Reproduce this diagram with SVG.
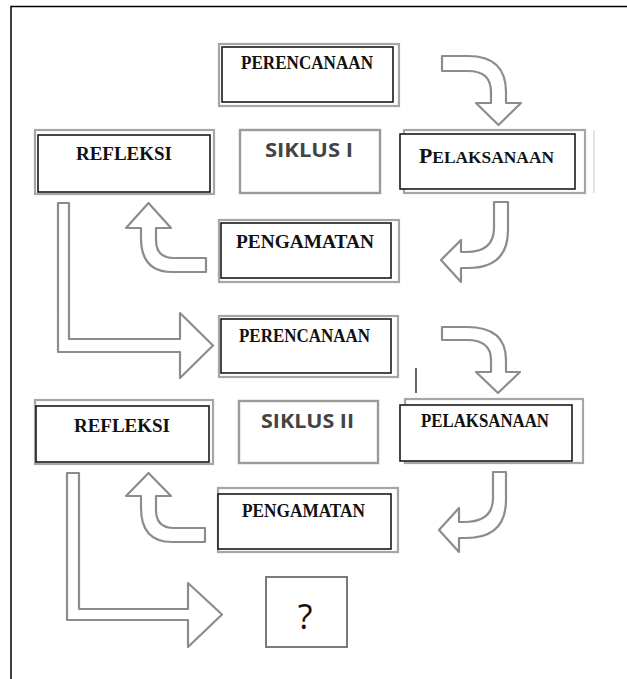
<svg xmlns="http://www.w3.org/2000/svg" width="627" height="679" viewBox="0 0 627 679">
<style>
.bg{fill:#fff}
.frame{stroke:#000;stroke-width:1.5;fill:none}
.shadow{fill:#fff;stroke:#a6a6a6;stroke-width:2.2}
.box{fill:#fff;stroke:#1a1a1a;stroke-width:1.6}
.sik{fill:#fff;stroke:#9a9a9a;stroke-width:2.4}
.lbl{font-family:"Liberation Serif","Times New Roman",serif;font-weight:bold;font-size:19px;fill:#111;text-anchor:middle}
.sl{font-family:"Open Sans","Liberation Sans",sans-serif;font-weight:bold;font-size:19px;fill:#444;text-anchor:middle}
.arr{fill:#fff;stroke:#8c8c8c;stroke-width:2.2;stroke-linejoin:round}
</style>
<rect class="bg" x="0" y="0" width="627" height="679"/>
<path class="frame" d="M11,679 L11,6.5 L627,6.5"/>

<g id="connectors">
  <path class="arr" d="M442,56 L468,56 Q506,56 506,92 L506,103 L521,103 L498.5,125 L476,103 L491,103 L491,92 Q491,71 468,71 L442,71 Z"/>
  <path class="arr" d="M494,202 L508,202 L508,230 Q508,268 468,268 L461,268 L461,282 L441,260 L461,240 L461,252 L466,252 Q494,252 494,228 Z"/>
  <path class="arr" d="M206,258 L206,272 L172,272 Q141,272 141,238 L141,228 L126,228 L148.5,203 L171,228 L156,228 L156,240 Q156,258 174,258 Z"/>
  <path class="arr" d="M58,203 L69,203 L69,339 L180,339 L180,313 L213,345.5 L180,378 L180,352 L58,352 Z"/>
  <path class="arr" d="M442,327 L467,327 Q506,327 506,360 L506,372 L520,372 L498,393 L476,372 L491,372 L491,360 Q491,340 467,340 L442,340 Z"/>
  <path class="arr" d="M493,472 L506,472 L506,500 Q506,538 466,538 L459,538 L459,552 L439,530 L459,508 L459,522 L464,522 Q493,522 493,498 Z"/>
  <path class="arr" d="M205,528 L205,542 L172,542 Q141,542 141,508 L141,496 L126,496 L148.5,473 L171,496 L156,496 L156,510 Q156,528 174,528 Z"/>
  <path class="arr" d="M67,473 L79,473 L79,609 L188,609 L188,583 L222,614.5 L188,647 L188,620 L67,620 Z"/>
  <line x1="416" y1="368" x2="416" y2="393" stroke="#111" stroke-width="1.3"/>
  <line x1="594" y1="130" x2="594" y2="193" stroke="#d0d0d0" stroke-width="1.2"/>
</g>

<g id="perencanaan1">
  <rect class="shadow" x="219" y="44" width="180" height="62"/>
  <rect class="box" x="222" y="47" width="171" height="55"/>
  <text class="lbl" x="307" y="69" textLength="132" lengthAdjust="spacingAndGlyphs">PERENCANAAN</text>
</g>
<g id="refleksi1">
  <rect class="shadow" x="35" y="130" width="179" height="64"/>
  <rect class="box" x="38" y="135" width="172" height="57"/>
  <text class="lbl" x="124" y="160" textLength="96" lengthAdjust="spacingAndGlyphs">REFLEKSI</text>
</g>
<g id="siklus1">
  <rect class="sik" x="240" y="130" width="140" height="63"/>
  <text class="sl" x="309" y="157" textLength="88" lengthAdjust="spacingAndGlyphs">SIKLUS I</text>
</g>
<g id="pelaksanaan1">
  <rect class="shadow" x="404" y="130" width="181" height="63"/>
  <rect class="box" x="400" y="134" width="175" height="55"/>
  <text x="419" y="163" font-family="'Liberation Serif','Times New Roman',serif" font-weight="bold" fill="#111" textLength="135" lengthAdjust="spacingAndGlyphs"><tspan font-size="22">P</tspan><tspan font-size="17.5">ELAKSANAAN</tspan></text>
</g>
<g id="pengamatan1">
  <rect class="shadow" x="219" y="220" width="180" height="62"/>
  <rect class="box" x="221" y="223" width="170" height="55"/>
  <text class="lbl" x="305" y="248" textLength="138" lengthAdjust="spacingAndGlyphs">PENGAMATAN</text>
</g>
<g id="perencanaan2">
  <rect class="shadow" x="219" y="316" width="179" height="61"/>
  <rect class="box" x="221" y="319" width="170" height="54"/>
  <text class="lbl" x="304.5" y="342" textLength="131" lengthAdjust="spacingAndGlyphs">PERENCANAAN</text>
</g>
<g id="refleksi2">
  <rect class="shadow" x="35" y="400" width="178" height="64"/>
  <rect class="box" x="36" y="406" width="173" height="56"/>
  <text class="lbl" x="122" y="432" textLength="96" lengthAdjust="spacingAndGlyphs">REFLEKSI</text>
</g>
<g id="siklus2">
  <rect class="sik" x="239" y="401" width="139" height="62"/>
  <text class="sl" x="307.5" y="428" textLength="93" lengthAdjust="spacingAndGlyphs">SIKLUS II</text>
</g>
<g id="pelaksanaan2">
  <rect class="shadow" x="405" y="399" width="178" height="64"/>
  <rect class="box" x="400" y="405" width="172" height="56"/>
  <text class="lbl" x="485" y="427" textLength="128" lengthAdjust="spacingAndGlyphs">PELAKSANAAN</text>
</g>
<g id="pengamatan2">
  <rect class="shadow" x="218" y="488" width="180" height="64"/>
  <rect class="box" x="218" y="494" width="173" height="55"/>
  <text class="lbl" x="303.5" y="517" textLength="123" lengthAdjust="spacingAndGlyphs">PENGAMATAN</text>
</g>
<g id="question">
  <rect x="266" y="577" width="81" height="70" fill="#fff" stroke="#7a7a7a" stroke-width="2"/>
  <text x="305" y="629" font-family="'Open Sans','Liberation Sans',sans-serif" font-size="34" fill="#111" text-anchor="middle">?</text>
</g>
</svg>
